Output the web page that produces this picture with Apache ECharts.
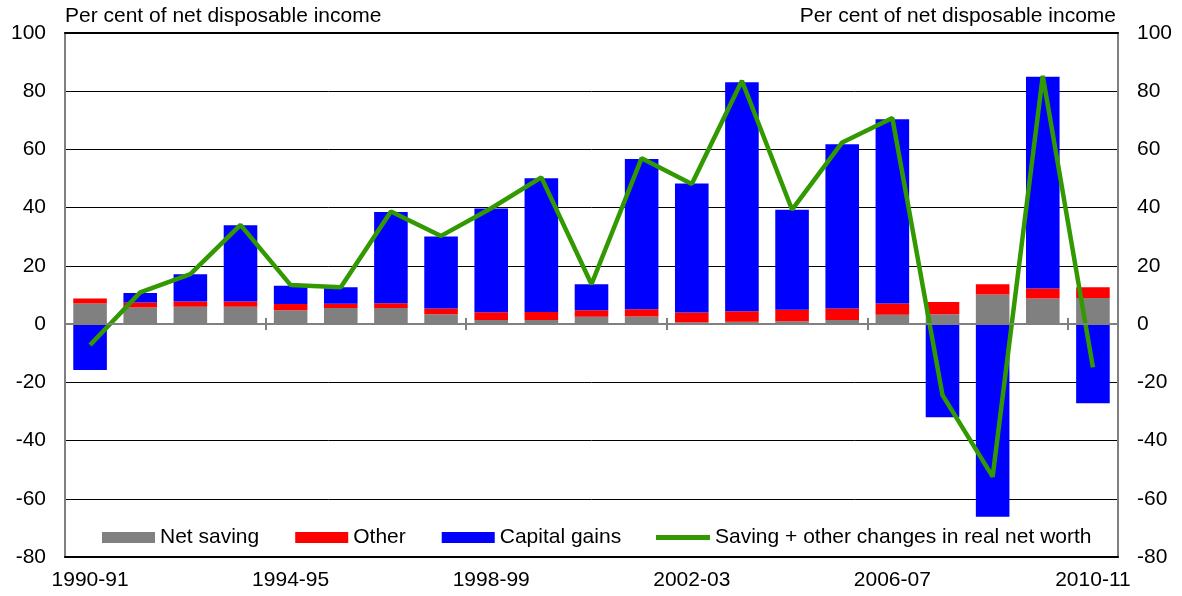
<!DOCTYPE html>
<html>
<head>
<meta charset="utf-8">
<title>Household saving and changes in net worth</title>
<script src="https://cdn.jsdelivr.net/npm/echarts@6/dist/echarts.min.js"></script>
<style>
  html, body { margin: 0; padding: 0; background: #fff; }
  #chart { width: 1182px; height: 596px; }
</style>
</head>
<body>
<div id="chart"></div>
<script>
// financial years
var years = [
  "1990-91", "1991-92", "1992-93", "1993-94", "1994-95", "1995-96", "1996-97",
  "1997-98", "1998-99", "1999-00", "2000-01", "2001-02", "2002-03", "2003-04",
  "2004-05", "2005-06", "2006-07", "2007-08", "2008-09", "2009-10", "2010-11"
];
// per cent of net disposable income
var netSaving = [7.1, 5.7, 6.0, 6.0, 4.8, 5.5, 5.5, 3.4, 1.4, 1.4, 2.5, 2.6, 0.6, 0.8, 1.0, 1.4, 3.2, 3.4, 10.2, 8.8, 9.0];
var other = [1.7, 1.7, 1.8, 1.8, 2.1, 1.5, 1.7, 2.0, 2.7, 2.8, 2.3, 2.5, 3.4, 3.6, 3.9, 4.0, 3.9, 4.2, 3.5, 3.4, 3.7];
var capitalGains = [-15.8, 3.3, 9.3, 26.2, 6.3, 5.7, 31.3, 24.7, 35.6, 45.9, 8.9, 51.6, 44.3, 78.7, 34.4, 56.4, 63.3, -32.0, -66.2, 72.8, -27.2];
var savingPlusOther = [-7.2, 10.9, 17.2, 34.1, 13.4, 12.7, 38.7, 30.3, 39.8, 50.4, 13.7, 57.0, 48.1, 83.6, 39.3, 62.4, 70.8, -24.4, -52.4, 85.3, -14.9];

var axisTitle = "Per cent of net disposable income";
var lineName = "Saving + other changes in real net worth";
var FONT = '"Liberation Sans", Arial, sans-serif';

var chart = echarts.init(document.getElementById("chart"));

function valueAxis(pos, margin) {
  return {
    type: "value",
    position: pos,
    min: -80,
    max: 100,
    interval: 20,
    axisLine: { show: true, onZero: false, lineStyle: { color: "#808080", width: 2 } },
    axisTick: { show: false },
    axisLabel: { margin: margin, color: "#000", fontSize: 21, fontFamily: FONT },
    splitLine: pos === "left"
      ? { show: true, lineStyle: { color: "#000", width: 1 } }
      : { show: false }
  };
}

var legendText = { fontSize: 21, color: "#000", fontFamily: FONT };

var option = {
  animation: false,
  textStyle: { fontFamily: FONT },
  color: ["#808080", "#ff0000", "#0000ff", "#339900"],
  title: [
    {
      text: axisTitle, left: 65, top: 6, padding: 0,
      textStyle: { fontSize: 21, fontWeight: "normal", color: "#000", fontFamily: FONT }
    },
    {
      text: axisTitle, right: 66, top: 6, padding: 0,
      textStyle: { fontSize: 21, fontWeight: "normal", color: "#000", fontFamily: FONT }
    }
  ],
  grid: { left: 65, right: 64, top: 33, bottom: 39, containLabel: false },
  legend: [
    {
      left: 102, top: 527, itemWidth: 53, itemHeight: 11, itemGap: 36, padding: 0,
      icon: "rect",
      textStyle: legendText,
      data: ["Net saving", "Other", "Capital gains"]
    },
    // the line gets its own legend so its key is a plain thick stroke
    {
      left: 656, top: 527, itemWidth: 54, itemHeight: 5, padding: 0,
      icon: "rect",
      textStyle: legendText,
      data: [lineName]
    }
  ],
  xAxis: [
    // bottom frame with year labels
    {
      type: "category", data: years, position: "bottom",
      axisLine: { onZero: false, lineStyle: { color: "#000", width: 2 } },
      axisTick: { show: false },
      axisLabel: { interval: 3, margin: 13, color: "#000", fontSize: 21, fontFamily: FONT }
    },
    // top frame
    {
      type: "category", data: years, position: "top",
      axisLine: { onZero: false, lineStyle: { color: "#000", width: 2 } },
      axisTick: { show: false }, axisLabel: { show: false }
    },
    // zero line, ticks pointing down
    {
      type: "category", data: years, position: "bottom", z: 5,
      axisLine: { onZero: true, onZeroAxisIndex: 0, lineStyle: { color: "#808080", width: 2 } },
      axisTick: { show: true, interval: 3, length: 6, lineStyle: { color: "#808080", width: 2 } },
      axisLabel: { show: false }
    },
    // zero line, ticks pointing up
    {
      type: "category", data: years, position: "bottom", z: 5,
      axisLine: { onZero: true, onZeroAxisIndex: 1, lineStyle: { color: "#808080", width: 2 } },
      axisTick: { show: true, inside: true, interval: 3, length: 6, lineStyle: { color: "#808080", width: 2 } },
      axisLabel: { show: false }
    }
  ],
  yAxis: [valueAxis("left", 19), valueAxis("right", 19)],
  series: [
    { name: "Net saving", type: "bar", stack: "total", barCategoryGap: "33%", data: netSaving },
    { name: "Other", type: "bar", stack: "total", data: other },
    { name: "Capital gains", type: "bar", stack: "total", data: capitalGains },
    {
      name: lineName,
      type: "line",
      symbol: "none",
      z: 3,
      itemStyle: { color: "#339900" },
      lineStyle: { width: 4.5, color: "#339900" },
      data: savingPlusOther
    }
  ]
};

chart.setOption(option);
</script>
</body>
</html>
